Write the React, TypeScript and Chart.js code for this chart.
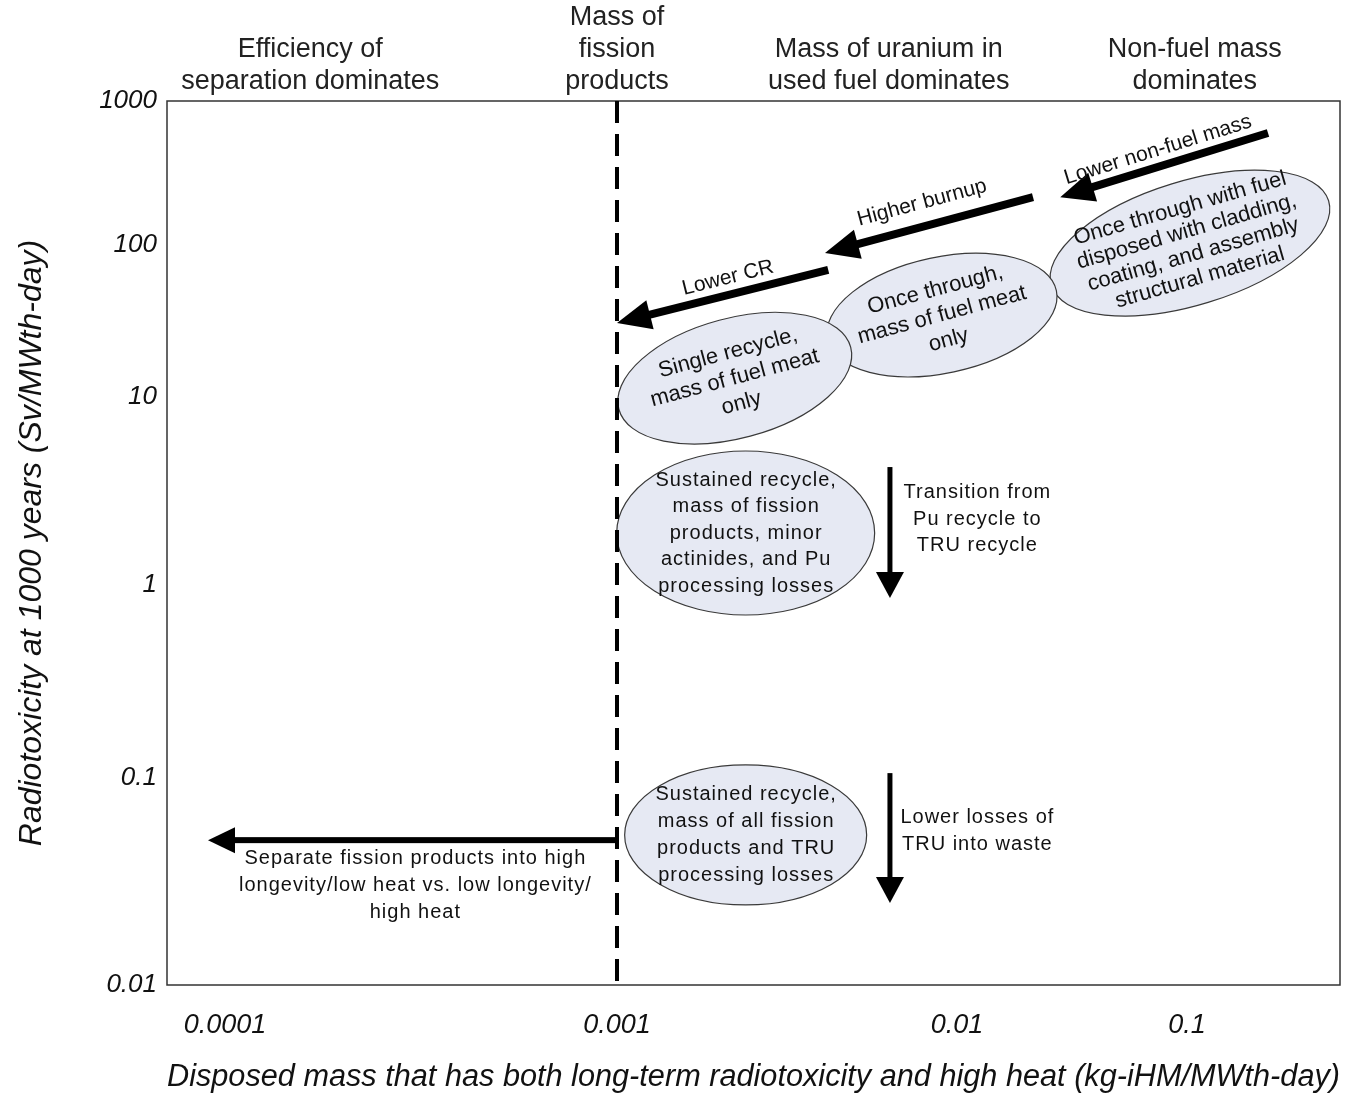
import { useEffect, useRef } from 'react';
import { Chart, registerables, LogarithmicScale } from 'chart.js';

// ---- axis decades -------------------------------------------------------
const xTicks = [0.0001, 0.001, 0.01, 0.1];
const yTicks = [0.01, 0.1, 1, 10, 100, 1000];

// ---- regime boundary: disposed mass equal to the fission product mass ----
const fissionProductMass = 0.001;

// ---- regime headings across the top --------------------------------------
const regimeTitles = [
  ['Efficiency of', 'separation dominates'],
  ['Mass of', 'fission', 'products'],
  ['Mass of uranium in', 'used fuel dominates'],
  ['Non-fuel mass', 'dominates'],
];
const regimeMass = [0.000165, 0.001, 0.0063, 0.108];

// ---- fuel-cycle cases (ellipses) -----------------------------------------
const caseLabels = [
  ['Once through with fuel', 'disposed with cladding,', 'coating, and assembly', 'structural material'],
  ['Once through,', 'mass of fuel meat', 'only'],
  ['Single recycle,', 'mass of fuel meat', 'only'],
  ['Sustained recycle,', 'mass of fission', 'products, minor', 'actinides, and Pu', 'processing losses'],
  ['Sustained recycle,', 'mass of all fission', 'products and TRU', 'processing losses'],
];
const caseMass = [0.103, 0.00903, 0.00222, 0.00239, 0.00239];
const caseRadiotoxicity = [103, 34.6, 13.3, 1.89, 0.0531];

// ---- improvement trends (arrows) -----------------------------------------
const trendLabels = [
  ['Lower non-fuel mass'],
  ['Higher burnup'],
  ['Lower CR'],
  ['Transition from', 'Pu recycle to', 'TRU recycle'],
  ['Lower losses of', 'TRU into waste'],
  ['Separate fission products into high', 'longevity/low heat vs. low longevity/', 'high heat'],
];
const trendFromMass = [0.225, 0.0214, 0.00418, 0.00635, 0.00635, 0.001];
const trendFromTox = [600, 215, 68.5, 4.24, 0.106, 0.0501];
const trendToMass = [0.0281, 0.00409, 0.001, 0.00635, 0.00635, 0.0000905];
const trendToTox = [215, 88.6, 30.7, 0.857, 0.0249, 0.0501];
const trendLabelMass = [0.0748, 0.00789, 0.00212, 0.0122, 0.0122, 0.000305];
const trendLabelTox = [457, 196, 60.7, 2.24, 0.0552, 0.0304];

// ---- drawing styles -------------------------------------------------------
const FONT = "'Liberation Sans', Arial, sans-serif";
const INK = '#111';

const caseStyles = [
  { rx: 145, ry: 62, rot: -17, textRot: -16, size: 22, gap: 24, spacing: 0 },
  { rx: 117, ry: 58, rot: -12, textRot: -15, size: 22, gap: 26, spacing: 0 },
  { rx: 120, ry: 60, rot: -15, textRot: -15, size: 22, gap: 26, spacing: 0 },
  { rx: 129, ry: 82, rot: 0, textRot: 0, size: 20, gap: 26.5, spacing: 1 },
  { rx: 121, ry: 70, rot: 0, textRot: 0, size: 20, gap: 27, spacing: 1 },
];

const trendStyles = [
  { shaft: 8, head: 34, half: 15, alongArrow: true, size: 21, gap: 0, spacing: 0 },
  { shaft: 8, head: 34, half: 15, alongArrow: true, size: 21, gap: 0, spacing: 0 },
  { shaft: 8, head: 34, half: 15, alongArrow: true, size: 21, gap: 0, spacing: 0 },
  { shaft: 5, head: 26, half: 14, alongArrow: false, size: 20, gap: 26.5, spacing: 1 },
  { shaft: 5, head: 26, half: 14, alongArrow: false, size: 20, gap: 27, spacing: 1 },
  { shaft: 6, head: 27, half: 13, alongArrow: false, size: 20, gap: 27, spacing: 1 },
];

// Log axis whose decades need not be equally long: each decade exponent is
// pinned to a fraction of the axis length and values between are log-interpolated.
class WarpedLogScale extends LogarithmicScale {
  static id = 'warpedLog';
  static defaults = {};

  stops(): [number[], number[]] {
    const o = this.options as any;
    return [o.decadeExps as number[], o.decadeFracs as number[]];
  }

  getPixelForValue(value: number) {
    const v = value > 0 ? value : (this.min as number);
    const [e, f] = this.stops();
    const l = Math.log10(v);
    let i = 0;
    while (i < e.length - 2 && l > e[i + 1]) i++;
    const dec = f[i] + ((l - e[i]) / (e[i + 1] - e[i])) * (f[i + 1] - f[i]);
    return this.getPixelForDecimal(dec);
  }

  getValueForPixel(pixel: number) {
    const dec = this.getDecimalForPixel(pixel);
    const [e, f] = this.stops();
    let i = 0;
    while (i < f.length - 2 && dec > f[i + 1]) i++;
    const l = e[i] + ((dec - f[i]) / (f[i + 1] - f[i])) * (e[i + 1] - e[i]);
    return Math.pow(10, l);
  }
}

Chart.register(...registerables, WarpedLogScale);

function drawLines(
  ctx: CanvasRenderingContext2D,
  lines: string[],
  cx: number,
  cy: number,
  angleDeg: number,
  size: number,
  gap: number,
  spacing: number,
) {
  ctx.save();
  ctx.translate(cx, cy);
  ctx.rotate((angleDeg * Math.PI) / 180);
  ctx.font = `${size}px ${FONT}`;
  (ctx as any).letterSpacing = `${spacing}px`;
  ctx.fillStyle = INK;
  ctx.textAlign = 'center';
  ctx.textBaseline = 'middle';
  lines.forEach((t, k) => ctx.fillText(t, spacing / 2, (k - (lines.length - 1) / 2) * gap));
  ctx.restore();
}

function drawArrow(
  ctx: CanvasRenderingContext2D,
  x1: number,
  y1: number,
  x2: number,
  y2: number,
  shaft: number,
  head: number,
  half: number,
) {
  const ang = Math.atan2(y2 - y1, x2 - x1);
  const len = Math.hypot(x2 - x1, y2 - y1);
  ctx.save();
  ctx.translate(x2, y2);
  ctx.rotate(ang);
  ctx.fillStyle = '#000';
  ctx.fillRect(-len, -shaft / 2, len - head + 2, shaft);
  ctx.beginPath();
  ctx.moveTo(0, 0);
  ctx.lineTo(-head, -half);
  ctx.lineTo(-head, half);
  ctx.closePath();
  ctx.fill();
  ctx.restore();
}

const annotations = {
  id: 'fuelCycleAnnotations',
  beforeDatasetsDraw(chart: any) {
    const { ctx, chartArea: a } = chart;
    const xs = chart.scales.x;
    const ys = chart.scales.y;
    ctx.save();
    caseMass.forEach((m, i) => {
      const s = caseStyles[i];
      const cx = xs.getPixelForValue(m);
      const cy = ys.getPixelForValue(caseRadiotoxicity[i]);
      ctx.beginPath();
      ctx.ellipse(cx, cy, s.rx, s.ry, (s.rot * Math.PI) / 180, 0, Math.PI * 2);
      ctx.fillStyle = '#e6e9f3';
      ctx.fill();
      ctx.lineWidth = 1.2;
      ctx.strokeStyle = '#3a3a3a';
      ctx.stroke();
    });
    ctx.lineWidth = 1.5;
    ctx.strokeStyle = '#333';
    ctx.strokeRect(a.left, a.top, a.right - a.left, a.bottom - a.top);
    ctx.restore();
  },
  afterDatasetsDraw(chart: any) {
    const { ctx, chartArea: a } = chart;
    const xs = chart.scales.x;
    const ys = chart.scales.y;

    caseLabels.forEach((lines, i) => {
      const s = caseStyles[i];
      drawLines(
        ctx,
        lines,
        xs.getPixelForValue(caseMass[i]),
        ys.getPixelForValue(caseRadiotoxicity[i]),
        s.textRot,
        s.size,
        s.gap,
        s.spacing,
      );
    });

    trendLabels.forEach((lines, i) => {
      const s = trendStyles[i];
      const x1 = xs.getPixelForValue(trendFromMass[i]);
      const y1 = ys.getPixelForValue(trendFromTox[i]);
      const x2 = xs.getPixelForValue(trendToMass[i]);
      const y2 = ys.getPixelForValue(trendToTox[i]);
      drawArrow(ctx, x1, y1, x2, y2, s.shaft, s.head, s.half);
      const rot = s.alongArrow ? (Math.atan2(y1 - y2, x1 - x2) * 180) / Math.PI : 0;
      drawLines(
        ctx,
        lines,
        xs.getPixelForValue(trendLabelMass[i]),
        ys.getPixelForValue(trendLabelTox[i]),
        rot,
        s.size,
        s.gap,
        s.spacing,
      );
    });

    regimeTitles.forEach((lines, i) => {
      const cx = xs.getPixelForValue(regimeMass[i]);
      ctx.save();
      ctx.font = `27px ${FONT}`;
      ctx.fillStyle = '#222';
      ctx.textAlign = 'center';
      ctx.textBaseline = 'middle';
      lines.forEach((t, k) => {
        ctx.fillText(t, cx, a.top - 19 - (lines.length - 1 - k) * 32);
      });
      ctx.restore();
    });
  },
};

export default function App() {
  const ref = useRef<HTMLCanvasElement>(null);

  useEffect(() => {
    const canvas = ref.current;
    if (!canvas) return;
    const chart = new Chart(canvas, {
      type: 'line',
      data: {
        datasets: [
          {
            data: [
              { x: fissionProductMass, y: yTicks[yTicks.length - 1] },
              { x: fissionProductMass, y: yTicks[0] },
            ],
            borderColor: '#000',
            borderWidth: 4,
            borderDash: [22, 11],
            pointRadius: 0,
            fill: false,
          },
        ],
      },
      options: {
        animation: false,
        responsive: false,
        devicePixelRatio: 1,
        layout: { padding: { top: 101, right: 32, left: 0, bottom: 0 } },
        plugins: { legend: { display: false }, tooltip: { enabled: false } },
        scales: {
          x: {
            type: 'warpedLog' as any,
            min: 0.0000711,
            max: 0.46,
            decadeExps: [-4, -3, -2, -1],
            decadeFracs: [0.04945, 0.38363, 0.67349, 0.86957],
            grid: { display: false, drawTicks: false },
            border: { display: false },
            afterBuildTicks: (s: any) => {
              s.ticks = xTicks.map((v) => ({ value: v }));
            },
            afterFit: (s: any) => {
              s.height = 111;
            },
            ticks: {
              autoSkip: false,
              maxRotation: 0,
              padding: 24,
              color: INK,
              font: { family: FONT, size: 27, style: 'italic' },
              callback: (v: any) => String(v),
            },
            title: {
              display: true,
              text: 'Disposed mass that has both long-term radiotoxicity and high heat (kg-iHM/MWth-day)',
              color: INK,
              font: { family: FONT, size: 31, style: 'italic' },
              padding: { top: 0, bottom: 0 },
            },
          } as any,
          y: {
            type: 'warpedLog' as any,
            min: 0.01,
            max: 1000,
            decadeExps: [-2, -1, 0, 1, 2, 3],
            decadeFracs: [0, 0.23416, 0.45249, 0.66516, 0.8371, 1],
            grid: { display: false, drawTicks: false },
            border: { display: false },
            afterBuildTicks: (s: any) => {
              s.ticks = yTicks.map((v) => ({ value: v }));
            },
            afterFit: (s: any) => {
              s.width = 167;
            },
            ticks: {
              autoSkip: false,
              padding: 10,
              color: INK,
              font: { family: FONT, size: 26, style: 'italic' },
              callback: (v: any) => String(v),
            },
            title: {
              display: true,
              text: 'Radiotoxicity at 1000 years (Sv/MWth-day)',
              color: INK,
              font: { family: FONT, size: 32, style: 'italic' },
              padding: { top: 13, bottom: 0 },
            },
          } as any,
        },
      },
      plugins: [annotations],
    });
    return () => chart.destroy();
  }, []);

  return (
    <div style={{ position: 'fixed', left: 0, top: 0, width: 1372, height: 1096, background: '#fff' }}>
      <canvas ref={ref} width={1372} height={1096} style={{ display: 'block' }} />
    </div>
  );
}
